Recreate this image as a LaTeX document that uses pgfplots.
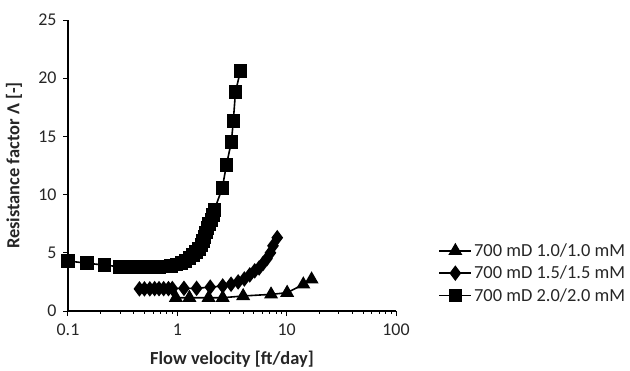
\documentclass[border=0pt]{standalone}
\usepackage{fontspec}
\setmainfont{Carlito}
\usepackage{pgfplots}
\pgfplotsset{compat=1.18}
\begin{document}
\begin{tikzpicture}[x=1bp,y=1bp]
\path[use as bounding box] (0,0) rectangle (630,370);
\begin{axis}[
  at={(68bp,59bp)}, anchor=south west,
  scale only axis, width=328bp, height=291bp,
  xmode=log, xmin=0.1, xmax=100,
  ymin=0, ymax=25,
  xtick={0.1,1,10,100}, xticklabels={0.1,1,10,100},
  ytick={0,5,10,15,20,25},
  minor tick num=0, minor xtick={},
  axis lines=left, axis line style={-, line width=1.2bp},
  tick align=outside, major tick length=5bp,
  tick style={line width=1bp, black},
  every tick label/.append style={font=\fontsize{18}{20}\selectfont, text=black!85},
  xticklabel style={yshift=-4bp},
  yticklabel style={xshift=-3bp},
  /pgf/number format/assume math mode=true,
  xlabel={\bfseries Flow velocity [ft/day]},
  ylabel={\bfseries Resistance factor Λ [-]},
  label style={font=\fontsize{18.5}{20}\selectfont, text=black!85},
  xlabel style={at={(axis description cs:0.5,0)}, anchor=center, yshift=-48bp},
  ylabel style={at={(axis description cs:0,0.5)}, anchor=center, yshift=54bp},
  legend style={at={(rel axis cs:1.12,0.13)}, anchor=west, draw=none, fill=none,
    font=\fontsize{18.5}{20}\selectfont, text=black!85, row sep=4bp,
    legend cell align=left},
  legend image code/.code={\draw[mark repeat=2,mark phase=2] plot coordinates {(0bp,0bp) (16bp,0bp) (32bp,0bp)};},
]
\addplot[black, line width=1.6bp, mark=triangle*, mark size=6.5bp, mark options={solid}] coordinates {
(0.97,1.14) (1.29,1.14) (1.93,1.14) (2.6,1.14) (4.0,1.29) (7.2,1.43) (10.1,1.57) (14.2,2.29) (16.9,2.72)
};
\addlegendentry{700 mD 1.0/1.0 mM}
\addplot[black, line width=1.6bp, mark=diamond*, mark size=6.5bp, mark options={solid}] coordinates {
(0.45,1.9) (0.5,1.9) (0.56,1.9) (0.62,1.92) (0.68,1.92) (0.75,1.92) (0.83,1.92) (0.9,1.93)
(1.15,1.95) (1.5,1.95) (2.0,2.05) (2.6,2.15) (3.1,2.3) (3.6,2.5) (4.1,2.75) (4.6,3.1)
(5.1,3.45) (5.6,3.7) (6.1,4.1) (6.6,4.5) (7.1,5.0) (7.5,5.6) (8.2,6.3)
};
\addlegendentry{700 mD 1.5/1.5 mM}
\addplot[black, line width=1.6bp, mark=square*, mark size=6bp, mark options={solid}] coordinates {
(0.1,4.3) (0.15,4.1) (0.215,3.95) (0.295,3.8) (0.33,3.8) (0.364,3.8) (0.42,3.78) (0.47,3.78)
(0.52,3.78) (0.6,3.78) (0.68,3.78) (0.88,3.87) (0.98,3.98) (1.09,4.12) (1.19,4.3) (1.29,4.55)
(1.39,4.8) (1.49,5.07) (1.58,5.35) (1.66,5.67) (1.72,6.0) (1.77,6.36) (1.83,6.75) (1.88,7.13)
(1.96,7.5) (2.05,7.82) (2.12,8.25) (2.18,8.68) (2.58,10.57) (2.81,12.54) (3.12,14.52)
(3.25,16.3) (3.40,18.8) (3.77,20.6)
};
\addlegendentry{700 mD 2.0/2.0 mM}
\end{axis}
\end{tikzpicture}
\end{document}
